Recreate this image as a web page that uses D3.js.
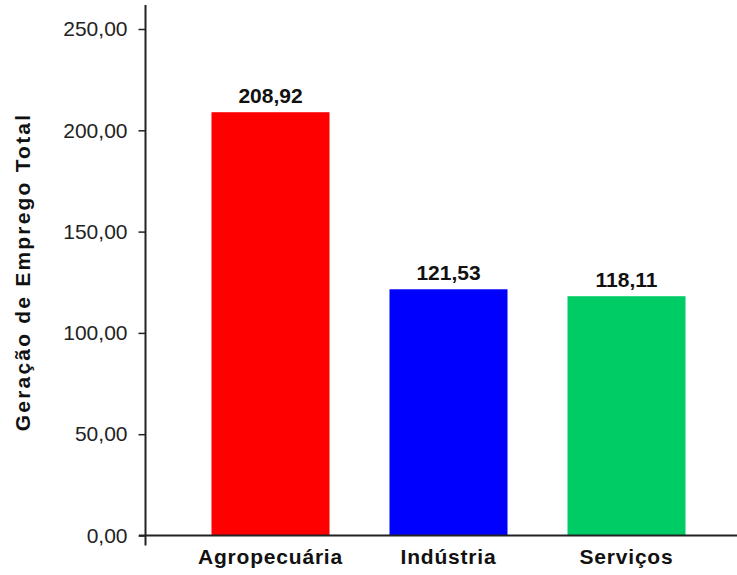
<!DOCTYPE html>
<html lang="pt">
<head>
    <meta charset="UTF-8">
    <title>Geração de Emprego Total</title>
    <script src="https://d3js.org/d3.v7.min.js"></script>
    <style>
        body { margin: 0; background: #fff; }
        text { font-family: Arial, "Liberation Sans", sans-serif; }
    </style>
</head>
<body>
    <script>
    // chart data
    const categories = ["Agropecuária", "Indústria", "Serviços"];
    const values = [208.92, 121.53, 118.11];
    const colors = ["#ff0000", "#0000ff", "#00cc66"];
    const yTicks = [0, 50, 100, 150, 200, 250];

    const width = 737, height = 575;
    const fmt = v => d3.format(".2f")(v).replace(".", ",");

    const svg = d3.select("body")
        .append("svg")
        .attr("width", width)
        .attr("height", height);

    const y = d3.scaleLinear()
        .domain([0, 250])
        .range([535.5, 29]);

    const x = d3.scaleBand()
        .domain(categories)
        .range([181.5, 715.5])
        .paddingInner(0.337)
        .paddingOuter(0.1685);

    // bars
    svg.append("g")
        .selectAll("rect")
        .data(values)
        .join("rect")
        .attr("x", (d, i) => x(categories[i]))
        .attr("y", d => y(d))
        .attr("width", x.bandwidth())
        .attr("height", d => y(0) - y(d))
        .attr("fill", (d, i) => colors[i]);

    // value labels
    svg.append("g")
        .selectAll("text")
        .data(values)
        .join("text")
        .attr("x", (d, i) => x(categories[i]) + x.bandwidth() / 2)
        .attr("y", d => y(d) - 9)
        .attr("text-anchor", "middle")
        .style("font-size", "21px")
        .style("font-weight", "bold")
        .attr("fill", "#111")
        .text(d => fmt(d));

    // y axis
    const yAxis = svg.append("g")
        .attr("transform", "translate(145.5,0)")
        .call(d3.axisLeft(y).tickValues(yTicks).tickFormat(fmt).tickSize(7).tickPadding(11).tickSizeOuter(0));
    yAxis.select(".domain").remove();
    yAxis.selectAll(".tick line").attr("stroke", "#222").attr("stroke-width", 1.5);
    yAxis.selectAll(".tick text")
        .style("font-size", "21px")
        .style("font-family", "Arial, 'Liberation Sans', sans-serif")
        .attr("fill", "#222");
    yAxis.append("line")
        .attr("x1", 0).attr("x2", 0)
        .attr("y1", 5).attr("y2", y(0) + 10)
        .attr("stroke", "#222")
        .attr("stroke-width", 2);

    // x axis
    const xAxis = svg.append("g")
        .attr("transform", `translate(0,${y(0)})`)
        .call(d3.axisBottom(x).tickSize(0).tickPadding(14));
    xAxis.select(".domain").remove();
    xAxis.selectAll(".tick text")
        .style("font-size", "21px")
        .style("font-weight", "bold")
        .style("font-family", "Arial, 'Liberation Sans', sans-serif")
        .style("letter-spacing", "0.8px")
        .attr("fill", "#111");
    xAxis.append("line")
        .attr("x1", 139).attr("x2", width)
        .attr("y1", 0).attr("y2", 0)
        .attr("stroke", "#222")
        .attr("stroke-width", 2);

    // y title
    svg.append("text")
        .attr("transform", "translate(29.5,272) rotate(-90)")
        .attr("text-anchor", "middle")
        .style("font-size", "21px")
        .style("font-weight", "bold")
        .style("letter-spacing", "2.2px")
        .attr("fill", "#111")
        .text("Geração de Emprego Total");
    </script>
</body>
</html>
